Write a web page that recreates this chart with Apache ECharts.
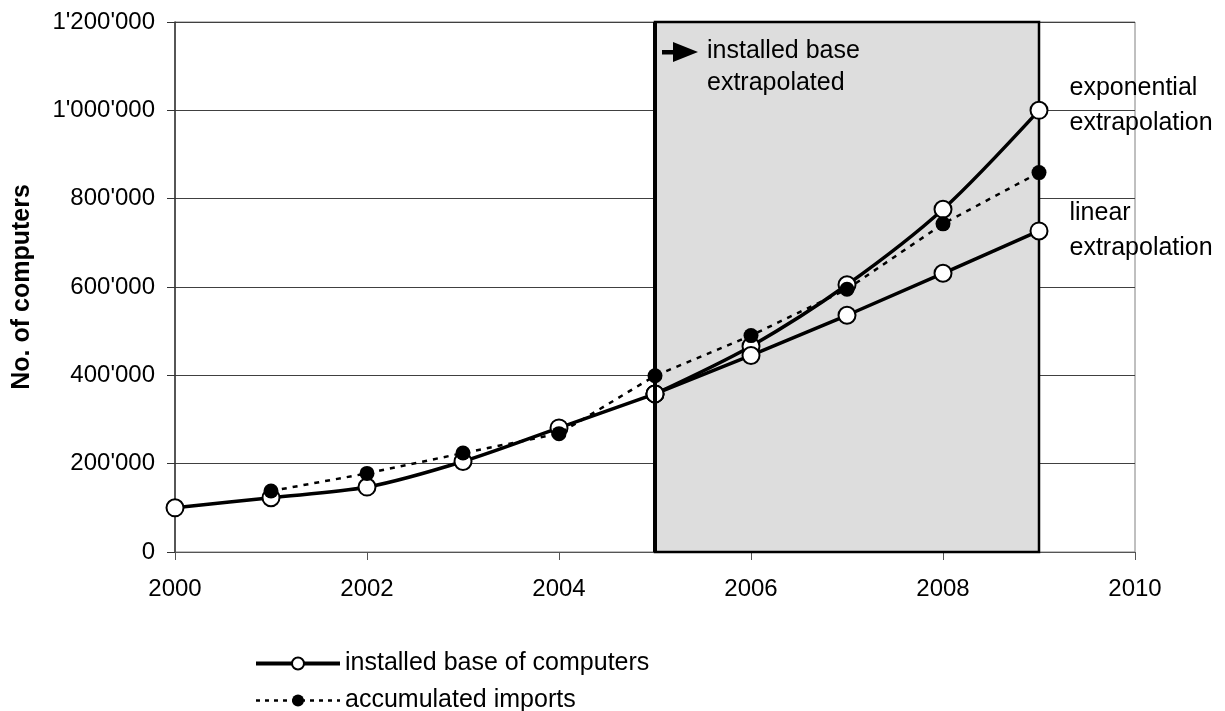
<!DOCTYPE html>
<html>
<head>
<meta charset="utf-8">
<script src="https://cdn.jsdelivr.net/npm/echarts@6/dist/echarts.min.js"></script>
<style>
html,body{margin:0;padding:0;background:#fff;}
#chart{width:1225px;height:711px;}
</style>
</head>
<body>
<div id="chart"></div>
<script>
// ---- data ----
var installedYears = [2000, 2001, 2002, 2003, 2004, 2005];
var installedValues = [100000, 123000, 147000, 205000, 281000, 358000];
var extrapYears = [2005, 2006, 2007, 2008, 2009];
var expValues = [358000, 466000, 605000, 776000, 1000000];
var linValues = [358000, 445000, 536000, 631000, 727000];
var importYears = [2001, 2002, 2003, 2004, 2005, 2006, 2007, 2008, 2009];
var importValues = [138000, 178000, 224000, 268000, 399000, 490000, 595000, 743000, 859000];
var shadeRange = [2005, 2009];
var seriesNames = ['installed base of computers', 'accumulated imports'];
var endLabels = ['exponential\nextrapolation', 'linear\nextrapolation'];
var annotationText = 'installed base\nextrapolated';

function pairs(xs, ys) { return xs.map(function (x, i) { return [x, ys[i]]; }); }
function fmtY(v) { return String(v).replace(/\B(?=(\d{3})+(?!\d))/g, "'"); }

var FONT = 'Liberation Sans, Arial, sans-serif';
var solidStyle = { color: '#000', width: 3.5 };
var whiteSym = { color: '#fff', borderColor: '#000', borderWidth: 2 };
var importLine = { color: '#000', width: 2.5, type: [5, 6] };

function lastLabel(text, offY) {
  return {
    show: true, position: 'right', distance: 21, offset: [0, offY],
    formatter: text, color: '#000', fontFamily: FONT, fontSize: 25, lineHeight: 35, align: 'left'
  };
}

var expData = pairs(extrapYears, expValues).map(function (p, i, a) {
  return i === a.length - 1 ? { value: p, label: lastLabel(endLabels[0], -5) } : p;
});
var linData = pairs(extrapYears, linValues).map(function (p, i, a) {
  return i === a.length - 1 ? { value: p, label: lastLabel(endLabels[1], 0) } : p;
});

var chart = echarts.init(document.getElementById('chart'));
var option = {
  animation: false,
  backgroundColor: '#fff',
  textStyle: { fontFamily: FONT },
  grid: { left: 175, right: 90, top: 22, bottom: 159, show: true, borderColor: '#808080', borderWidth: 1, backgroundColor: 'transparent' },
  legend: {
    data: [
      { name: seriesNames[0], lineStyle: { width: 4, color: '#000' }, itemStyle: { color: '#fff', borderColor: '#000', borderWidth: 2 } },
      { name: seriesNames[1], lineStyle: { width: 2.5, color: '#000', type: [4, 5] }, itemStyle: { color: '#000' } }
    ],
    orient: 'vertical',
    left: 249, top: 646, height: 70,
    itemWidth: 84, itemHeight: 15, itemGap: 12, itemTextGap: 4,
    textStyle: { fontFamily: FONT, fontSize: 25, color: '#000' }
  },
  xAxis: {
    type: 'value', min: 2000, max: 2010, interval: 2,
    axisLine: { show: true, lineStyle: { color: '#555', width: 1 } },
    axisTick: { show: true, inside: false, length: 8, lineStyle: { color: '#555' } },
    axisLabel: { margin: 25, fontSize: 24, color: '#000', fontFamily: FONT, formatter: function (v) { return String(v); } },
    splitLine: { show: false }
  },
  yAxis: {
    type: 'value', min: 0, max: 1200000, interval: 200000,
    name: 'No. of computers', nameLocation: 'middle', nameGap: 140, nameRotate: 90,
    nameTextStyle: { fontFamily: FONT, fontSize: 25, fontWeight: 'bold', color: '#000' },
    axisLine: { show: true, lineStyle: { color: '#333', width: 1.5 } },
    axisTick: { show: true, inside: false, length: 8, lineStyle: { color: '#333' } },
    axisLabel: { margin: 20, fontSize: 24, color: '#000', fontFamily: FONT, formatter: fmtY },
    splitLine: { show: true, lineStyle: { color: '#404040', width: 1 } }
  },
  series: [
    {
      name: seriesNames[0], type: 'line', data: pairs(installedYears, installedValues),
      smooth: 0.3, symbol: 'circle', symbolSize: 17, showAllSymbol: true,
      lineStyle: solidStyle, itemStyle: whiteSym, z: 4,
      markArea: {
        silent: true,
        itemStyle: { color: '#dddddd', borderColor: '#000', borderWidth: 2.5 },
        data: [[{ xAxis: shadeRange[0], yAxis: 0 }, { xAxis: shadeRange[1], yAxis: 1200000 }]]
      },
      markLine: {
        silent: true, symbol: ['none', 'none'], label: { show: false },
        lineStyle: { color: '#000', width: 4, type: 'solid' },
        data: [[{ coord: [shadeRange[0], 0] }, { coord: [shadeRange[0], 1200000] }]]
      }
    },
    {
      name: seriesNames[0], type: 'line', data: expData,
      smooth: 0.3, symbol: 'circle', symbolSize: 17, showAllSymbol: true,
      lineStyle: solidStyle, itemStyle: whiteSym, z: 4
    },
    {
      name: seriesNames[0], type: 'line', data: linData,
      smooth: false, symbol: 'circle', symbolSize: 17, showAllSymbol: true,
      lineStyle: solidStyle, itemStyle: whiteSym, z: 4
    },
    {
      name: seriesNames[1], type: 'line', data: pairs(importYears, importValues),
      smooth: false, symbol: 'circle', symbolSize: 15, showAllSymbol: true,
      lineStyle: importLine,
      itemStyle: { color: '#000', borderColor: '#000', borderWidth: 0 }, z: 5
    }
  ]
};
chart.setOption(option);

// annotation: arrow + text anchored to the start of the shaded range
var origin = chart.convertToPixel({ gridIndex: 0 }, [shadeRange[0], 1200000]);
var ax = origin[0], ay = origin[1];
chart.setOption({
  graphic: [
    { type: 'rect', shape: { x: ax + 7, y: ay + 28, width: 12, height: 4.5 }, style: { fill: '#000' }, z: 10 },
    { type: 'polygon', shape: { points: [[ax + 18, ay + 20], [ax + 43, ay + 30], [ax + 18, ay + 40]] }, style: { fill: '#000' }, z: 10 },
    { type: 'text', x: ax + 52, y: ay + 13, style: { text: annotationText, fill: '#000', font: '25px ' + FONT, lineHeight: 32 }, z: 10 }
  ]
});
</script>
</body>
</html>
